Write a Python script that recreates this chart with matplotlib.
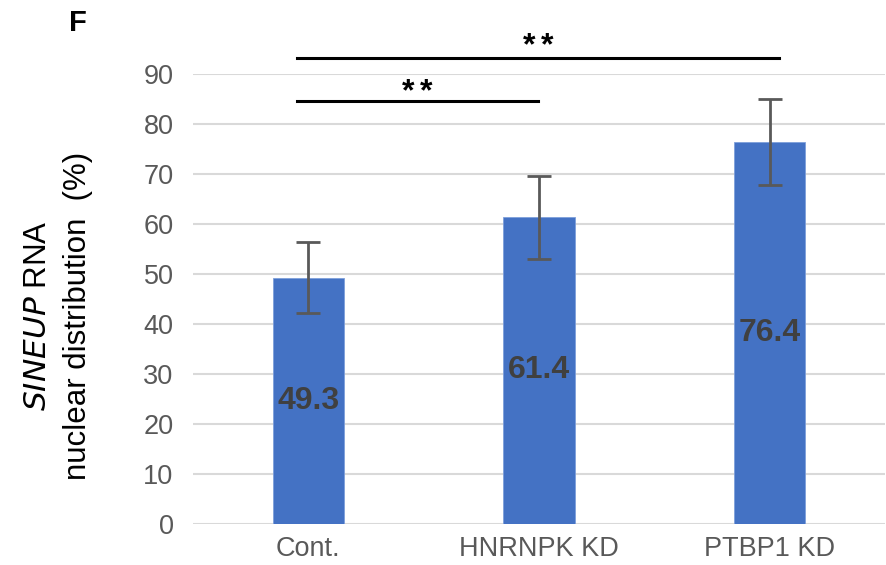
import matplotlib
matplotlib.use("Agg")
import matplotlib.pyplot as plt

plt.rcParams['font.family'] = ['Liberation Sans', 'DejaVu Sans']

categories = ["Cont.", "HNRNPK KD", "PTBP1 KD"]
values = [49.3, 61.4, 76.4]
errors = [7.1, 8.3, 8.6]
y_ticks = [0, 10, 20, 30, 40, 50, 60, 70, 80, 90]

# significance brackets: (start index, end index, label)
sig_pairs = [(0, 1, "**"), (0, 2, "**")]

fig = plt.figure(figsize=(8.87, 5.65), dpi=100)
ax = fig.add_axes([193 / 887, 1 - 524 / 565, (885 - 193) / 887, (524 - 74) / 565])

x = list(range(len(categories)))
ax.bar(x, values, width=0.31, color="#4472C4", edgecolor="#7e9fdb", linewidth=0.6, zorder=2)
ax.errorbar(x, values, yerr=errors, fmt="none", ecolor="#595959", elinewidth=2,
            capsize=8.6, capthick=2, zorder=3)

for xi, v in zip(x, values):
    ax.text(xi, v / 2, f"{v:.1f}", ha="center", va="center", fontsize=23,
            fontweight="bold", color="#404040", zorder=4)

ax.set_xlim(-0.5, 2.5)
ax.set_ylim(0, 90)
ax.set_yticks(y_ticks)
ax.set_xticks(x)
ax.set_xticklabels(categories)
ax.tick_params(axis="both", length=0, labelsize=19.5, colors="#595959")
ax.tick_params(axis="y", pad=14)
ax.tick_params(axis="x", pad=9)
ax.yaxis.grid(True, color="#d9d9d9", linewidth=1.5, zorder=0)
ax.set_axisbelow(True)
for s in ax.spines.values():
    s.set_visible(False)

# significance lines and star baselines
line_levels = [84.6, 93.3]
star_baselines = [84.7, 94.0]
for (a, b, lab), yl, yb in zip(sig_pairs, line_levels, star_baselines):
    x0 = a - 0.05
    x1 = b - 0.006 if b == 1 else b + 0.042
    ax.plot([x0, x1], [yl, yl], color="black", linewidth=2.2, clip_on=False, zorder=5)
    xm = (x0 + x1) / 2
    for dx in (-6.2, 6.2):
        ax.annotate("*", xy=(xm, yb), xytext=(dx, 0), textcoords="offset points",
                    ha="center", va="baseline", fontsize=23, fontweight="bold",
                    color="black", annotation_clip=False)

# y-axis label with italic gene name
yc = 1 - 316 / 565
fig.text(38 / 887, yc, r"$\it{SINEUP}$ RNA", rotation=90, ha="center", va="center",
         fontsize=22.5, color="black")
fig.text(78 / 887, yc, "nuclear distribution  (%)", rotation=90, ha="center",
         va="center", fontsize=22.5, color="black")

fig.text(78 / 887, 1 - 23 / 565, "F", ha="center", va="center", fontsize=21,
         fontweight="bold", color="black")

fig.savefig("out.png", dpi=100)
